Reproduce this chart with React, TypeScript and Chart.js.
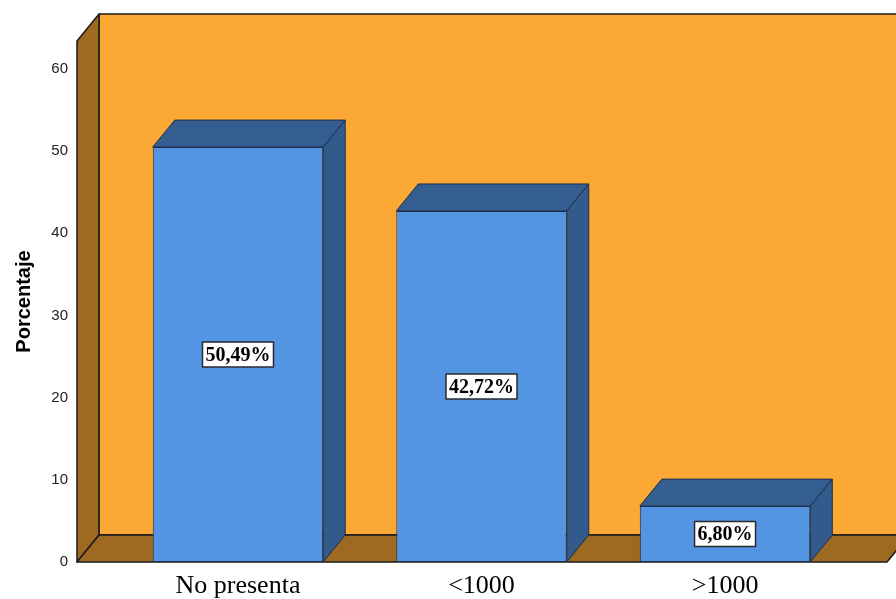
import React, { useEffect, useRef } from "react";
import { Chart, registerables } from "chart.js";

Chart.register(...registerables);

const categories = ["No presenta", "<1000", ">1000"];
const percentages = [50.49, 42.72, 6.8];
const yTicks = [0, 10, 20, 30, 40, 50, 60];

const DX = 22;
const DY = -27;

const threeD = {
  id: "threeD",
  beforeDatasetsDraw(chart: any) {
    const { ctx, chartArea } = chart;
    const L = chartArea.left, R = chartArea.right, T = chartArea.top, B = chartArea.bottom;
    ctx.save();
    ctx.lineWidth = 1.5;
    ctx.strokeStyle = "#1a1a1a";
    ctx.lineJoin = "round";
    // back wall
    ctx.beginPath();
    ctx.rect(L + DX, T + DY, R - L + 40, B - T);
    ctx.fillStyle = "#FCA834";
    ctx.fill();
    ctx.stroke();
    // left wall
    ctx.beginPath();
    ctx.moveTo(L, T);
    ctx.lineTo(L + DX, T + DY);
    ctx.lineTo(L + DX, B + DY);
    ctx.lineTo(L, B);
    ctx.closePath();
    ctx.fillStyle = "#9E6920";
    ctx.fill();
    ctx.stroke();
    // floor
    ctx.beginPath();
    ctx.moveTo(L, B);
    ctx.lineTo(L + DX, B + DY);
    ctx.lineTo(R + DX, B + DY);
    ctx.lineTo(R, B);
    ctx.closePath();
    ctx.fillStyle = "#9E6920";
    ctx.fill();
    ctx.stroke();
    ctx.restore();
  },
  afterDatasetsDraw(chart: any) {
    const { ctx } = chart;
    const meta = chart.getDatasetMeta(0);
    ctx.save();
    ctx.lineJoin = "round";
    meta.data.forEach((bar: any, i: number) => {
      const { x, y, base, width } = bar.getProps(["x", "y", "base", "width"], true);
      const l = x - width / 2;
      const r = x + width / 2;
      ctx.lineWidth = 1;
      ctx.strokeStyle = "#1d2f48";
      // top face
      ctx.beginPath();
      ctx.moveTo(l, y);
      ctx.lineTo(l + DX, y + DY);
      ctx.lineTo(r + DX, y + DY);
      ctx.lineTo(r, y);
      ctx.closePath();
      ctx.fillStyle = "#345D90";
      ctx.fill();
      ctx.stroke();
      // side face
      ctx.beginPath();
      ctx.moveTo(r, y);
      ctx.lineTo(r + DX, y + DY);
      ctx.lineTo(r + DX, base + DY);
      ctx.lineTo(r, base);
      ctx.closePath();
      ctx.fillStyle = "#325B8C";
      ctx.fill();
      ctx.stroke();

      // value label
      const txt = percentages[i].toFixed(2).replace(".", ",") + "%";
      const cy = (y + base) / 2;
      ctx.font = "bold 20px 'Liberation Serif', 'Times New Roman', serif";
      const tw = ctx.measureText(txt).width;
      const bw = tw + 6;
      const bh = 25;
      ctx.fillStyle = "#ffffff";
      ctx.fillRect(x - bw / 2, cy - bh / 2, bw, bh);
      ctx.lineWidth = 1.5;
      ctx.strokeStyle = "#2a2a2a";
      ctx.strokeRect(x - bw / 2, cy - bh / 2, bw, bh);
      ctx.fillStyle = "#000000";
      ctx.textAlign = "center";
      ctx.textBaseline = "middle";
      ctx.fillText(txt, x, cy + 1);
    });
    ctx.restore();
  },
};

export default function App() {
  const ref = useRef<HTMLCanvasElement>(null);
  useEffect(() => {
    if (!ref.current) return;
    const chart = new Chart(ref.current, {
      type: "bar",
      data: {
        datasets: [
          {
            data: percentages.map((v, i) => ({ x: i, y: v })),
            backgroundColor: "#5495E3",
            borderColor: "#1d2f48",
            borderWidth: 1,
            borderSkipped: false,
            barPercentage: 0.7,
            categoryPercentage: 1,
          },
        ],
      },
      options: {
        responsive: false,
        animation: false,
        layout: { padding: { top: 41, right: 9, left: 0, bottom: 0 } },
        plugins: { legend: { display: false }, tooltip: { enabled: false } },
        scales: {
          x: {
            type: "linear",
            offset: false,
            min: -0.661,
            max: 2.665,
            grid: { display: false, offset: false },
            border: { display: false },
            afterBuildTicks: (scale: any) => {
              scale.ticks = categories.map((_, i) => ({ value: i }));
            },
            afterFit: (scale: any) => {
              scale.height = 37;
            },
            ticks: {
              padding: 1,
              color: "#000",
              font: { family: "'Liberation Serif', 'Times New Roman', serif", size: 26 },
              callback: (v: any) => categories[v] ?? "",
            },
          },
          y: {
            min: 0,
            max: 63.4,
            grid: { display: false },
            border: { display: false },
            afterBuildTicks: (scale: any) => {
              scale.ticks = yTicks.map((v) => ({ value: v }));
            },
            afterFit: (scale: any) => {
              scale.width = 77;
            },
            ticks: {
              padding: 1,
              color: "#222",
              font: { family: "'Liberation Sans', Arial, sans-serif", size: 15 },
            },
            title: {
              display: true,
              text: "Porcentaje",
              color: "#000",
              padding: { top: 12, bottom: 0 },
              font: { family: "'Liberation Sans', Arial, sans-serif", size: 20, weight: "bold" },
            },
          },
        },
      },
      plugins: [threeD],
    } as any);
    return () => chart.destroy();
  }, []);
  return (
    <div style={{ position: "fixed", left: 0, top: 0, width: 896, height: 599, background: "#fff" }}>
      <canvas ref={ref} width={896} height={599} style={{ display: "block" }} />
    </div>
  );
}
